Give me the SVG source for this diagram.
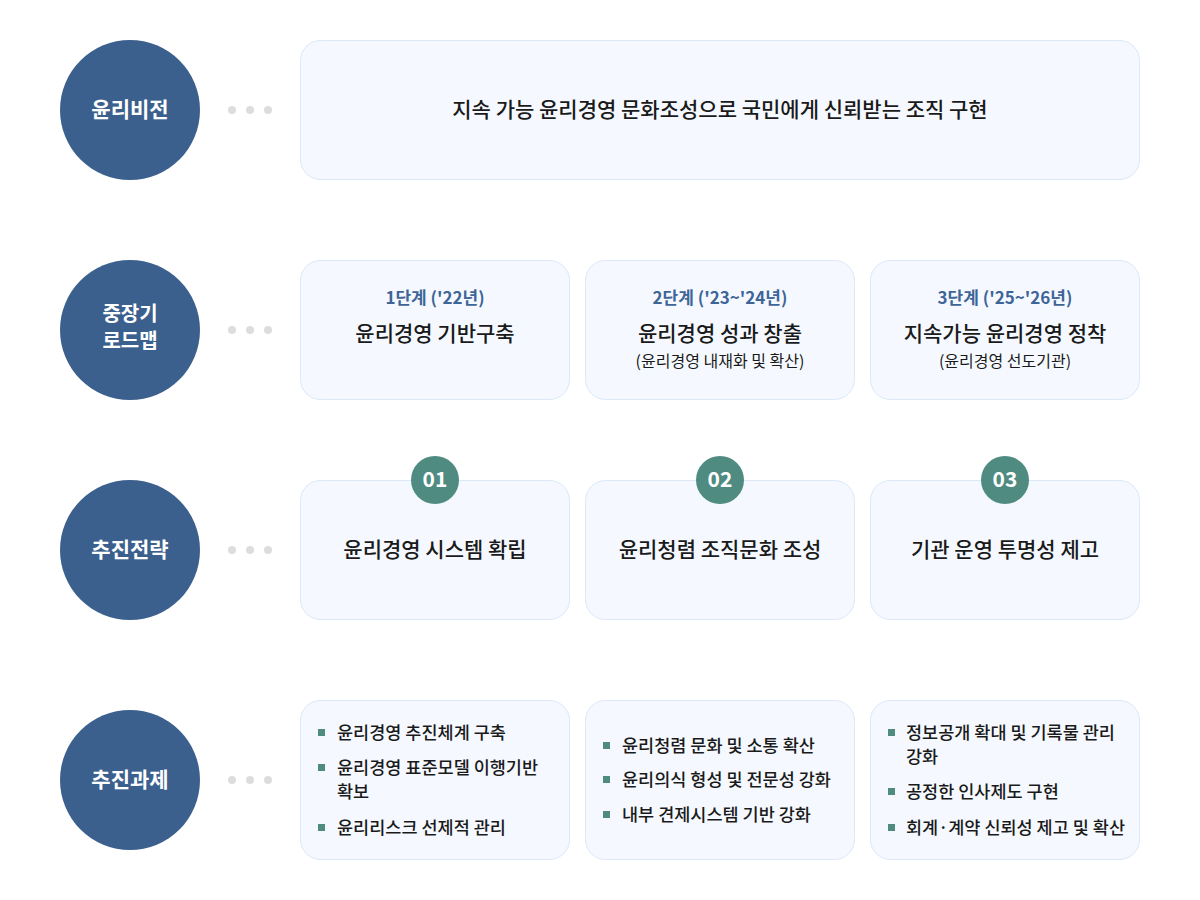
<svg xmlns="http://www.w3.org/2000/svg" width="1200" height="900" viewBox="0 0 1200 900">
<style>
text{font-family:"Noto Sans CJK KR","Noto Sans",sans-serif;}
.c{fill:#3c608e;}
.ct{fill:#fff;font-size:21px;font-weight:700;text-anchor:middle;}
.d{fill:#dddddd;}
.b{fill:#f5f9ff;stroke:#dbe8f8;stroke-width:1;}
.ph{fill:#3e6597;font-size:17px;font-weight:700;text-anchor:middle;}
.m{fill:#1a1a1a;font-size:21px;font-weight:500;text-anchor:middle;}
.s{fill:#1a1a1a;font-size:16px;text-anchor:middle;}
.bg{fill:#4f8b81;}
.bt{fill:#fff;font-size:21px;font-weight:700;text-anchor:middle;}
.sq{fill:#4f8b81;}
.li{fill:#1a1a1a;font-size:17.5px;font-weight:500;}
</style>
<rect width="1200" height="900" fill="#fff"/>
<g id="connectors">
<circle class="d" cx="232" cy="110" r="4"/><circle class="d" cx="250" cy="110" r="4"/><circle class="d" cx="268" cy="110" r="4"/>
<circle class="d" cx="232" cy="330" r="4"/><circle class="d" cx="250" cy="330" r="4"/><circle class="d" cx="268" cy="330" r="4"/>
<circle class="d" cx="232" cy="550" r="4"/><circle class="d" cx="250" cy="550" r="4"/><circle class="d" cx="268" cy="550" r="4"/>
<circle class="d" cx="232" cy="780" r="4"/><circle class="d" cx="250" cy="780" r="4"/><circle class="d" cx="268" cy="780" r="4"/>
</g>
<g id="vision-label"><circle class="c" cx="130" cy="110" r="70"/><text class="ct" x="130" y="117">윤리비전</text></g>
<g id="roadmap-label"><circle class="c" cx="130" cy="330" r="70"/><text class="ct" x="130" y="321" style="font-size:20px">중장기</text><text class="ct" x="130" y="348" style="font-size:20px">로드맵</text></g>
<g id="strategy-label"><circle class="c" cx="130" cy="550" r="70"/><text class="ct" x="130" y="557">추진전략</text></g>
<g id="task-label"><circle class="c" cx="130" cy="780" r="70"/><text class="ct" x="130" y="787">추진과제</text></g>

<g id="vision"><rect class="b" x="300.5" y="40.5" width="839" height="139" rx="20"/><text class="m" x="720" y="117">지속 가능 윤리경영 문화조성으로 국민에게 신뢰받는 조직 구현</text></g>

<g id="phase1"><rect class="b" x="300.5" y="260.5" width="269" height="139" rx="20"/><text class="ph" x="435" y="304">1단계 ('22년)</text><text class="m" x="435" y="341">윤리경영 기반구축</text></g>
<g id="phase2"><rect class="b" x="585.5" y="260.5" width="269" height="139" rx="20"/><text class="ph" x="720" y="304">2단계 ('23~'24년)</text><text class="m" x="720" y="341">윤리경영 성과 창출</text><text class="s" x="720" y="367">(윤리경영 내재화 및 확산)</text></g>
<g id="phase3"><rect class="b" x="870.5" y="260.5" width="269" height="139" rx="20"/><text class="ph" x="1005" y="304">3단계 ('25~'26년)</text><text class="m" x="1005" y="341">지속가능 윤리경영 정착</text><text class="s" x="1005" y="367">(윤리경영 선도기관)</text></g>

<g id="strategy1"><rect class="b" x="300.5" y="480.5" width="269" height="139" rx="20"/><circle class="bg" cx="435" cy="480" r="24"/><text class="bt" x="435" y="487">01</text><text class="m" x="435" y="557">윤리경영 시스템 확립</text></g>
<g id="strategy2"><rect class="b" x="585.5" y="480.5" width="269" height="139" rx="20"/><circle class="bg" cx="720" cy="480" r="24"/><text class="bt" x="720" y="487">02</text><text class="m" x="720" y="557">윤리청렴 조직문화 조성</text></g>
<g id="strategy3"><rect class="b" x="870.5" y="480.5" width="269" height="139" rx="20"/><circle class="bg" cx="1005" cy="480" r="24"/><text class="bt" x="1005" y="487">03</text><text class="m" x="1005" y="557">기관 운영 투명성 제고</text></g>

<g id="task1"><rect class="b" x="300.5" y="700.5" width="269" height="159" rx="20"/>
<rect class="sq" x="318" y="729" width="7" height="7"/><text class="li" x="337" y="739">윤리경영 추진체계 구축</text>
<rect class="sq" x="318" y="764" width="7" height="7"/><text class="li" x="337" y="774">윤리경영 표준모델 이행기반</text><text class="li" x="337" y="798">확보</text>
<rect class="sq" x="318" y="824" width="7" height="7"/><text class="li" x="337" y="834">윤리리스크 선제적 관리</text></g>
<g id="task2"><rect class="b" x="585.5" y="700.5" width="269" height="159" rx="20"/>
<rect class="sq" x="603" y="742" width="7" height="7"/><text class="li" x="622" y="752">윤리청렴 문화 및 소통 확산</text>
<rect class="sq" x="603" y="776" width="7" height="7"/><text class="li" x="622" y="786">윤리의식 형성 및 전문성 강화</text>
<rect class="sq" x="603" y="811" width="7" height="7"/><text class="li" x="622" y="821">내부 견제시스템 기반 강화</text></g>
<g id="task3"><rect class="b" x="870.5" y="700.5" width="269" height="159" rx="20"/>
<rect class="sq" x="888" y="729" width="7" height="7"/><text class="li" x="906" y="739">정보공개 확대 및 기록물 관리</text><text class="li" x="906" y="763">강화</text>
<rect class="sq" x="888" y="788" width="7" height="7"/><text class="li" x="906" y="798">공정한 인사제도 구현</text>
<rect class="sq" x="888" y="824" width="7" height="7"/><text class="li" x="906" y="834">회계·계약 신뢰성 제고 및 확산</text></g>
</svg>
